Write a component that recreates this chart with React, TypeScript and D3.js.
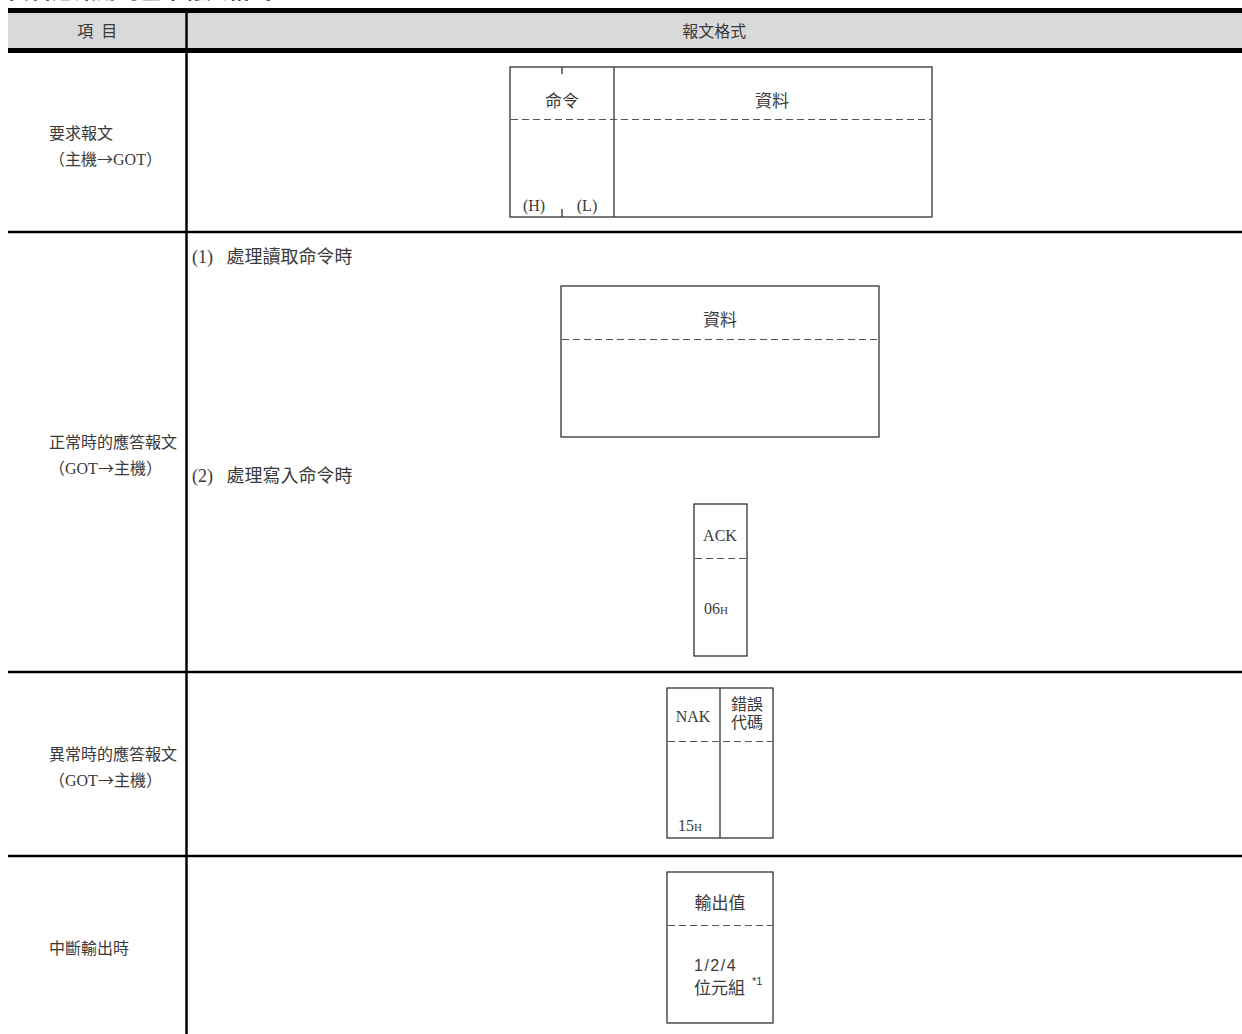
import React, { useEffect, useRef } from "react";
import * as d3 from "d3";

// texts of the table
const titleText = "資料通訊用的基本報文格式";
const headerLabels = ["項  目", "報文格式"];
const rowLabels = [
  ["要求報文", "（主機→GOT）"],
  ["正常時的應答報文", "（GOT→主機）"],
  ["異常時的應答報文", "（GOT→主機）"],
  ["中斷輸出時"],
];
const subCaptions = ["(1)   處理讀取命令時", "(2)   處理寫入命令時"];
const requestFields = ["命令", "資料"];
const requestBytes = ["(H)", "(L)"];
const readFields = ["資料"];
const ackFields = ["ACK", "06", "H"];
const nakFields = ["NAK", "15", "H"];
const errorCode = ["錯誤", "代碼"];
const outputFields = ["輸出值", "1/2/4", "位元組", "*1"];

// layout
const W = 1242;
const H = 1034;
const tableLeft = 8;
const colX = 186.5;
const rowBounds = [53, 232, 672, 856, H];

const CJK = "'Liberation Serif', 'Noto Sans CJK TC', serif";
const CJK_ONLY = "'Noto Sans CJK TC', sans-serif";
const SANS = "'Liberation Sans', Arial, sans-serif";
const TEXT = "#3a3a3a";
const FS = 17;

const App: React.FC = () => {
  const ref = useRef<SVGSVGElement>(null);

  useEffect(() => {
    const svg = d3.select(ref.current);
    svg.selectAll("*").remove();

    const y = d3.scaleLinear().domain([0, H]).range([0, H]);

    // title, mostly cut off by the page top
    svg
      .append("text")
      .attr("x", tableLeft)
      .attr("y", -2)
      .attr("font-family", CJK)
      .attr("font-weight", "bold")
      .attr("font-size", 22)
      .attr("fill", "#111")
      .text(titleText);

    // header
    svg.append("rect").attr("x", tableLeft).attr("y", 13).attr("width", W - tableLeft).attr("height", 35).attr("fill", "#d9d9d9");
    svg.append("rect").attr("x", tableLeft).attr("y", 8).attr("width", W - tableLeft).attr("height", 5).attr("fill", "#000");
    svg.append("rect").attr("x", tableLeft).attr("y", 48).attr("width", W - tableLeft).attr("height", 5).attr("fill", "#000");

    const headerX = [(tableLeft + colX) / 2, (colX + W) / 2];
    svg
      .selectAll("text.head")
      .data(headerLabels)
      .enter()
      .append("text")
      .attr("class", "head")
      .attr("x", (_d, i) => headerX[i])
      .attr("y", 37)
      .attr("text-anchor", "middle")
      .attr("font-family", CJK)
      .attr("font-size", 16)
      .attr("fill", TEXT)
      .style("white-space", "pre")
      .text((d) => d);

    // column divider
    svg.append("line").attr("x1", colX).attr("x2", colX).attr("y1", 13).attr("y2", H).attr("stroke", "#000").attr("stroke-width", 2.5);

    // row separators
    svg
      .selectAll("line.row")
      .data(rowBounds.slice(1, -1))
      .enter()
      .append("line")
      .attr("class", "row")
      .attr("x1", tableLeft)
      .attr("x2", W)
      .attr("y1", (d) => y(d))
      .attr("y2", (d) => y(d))
      .attr("stroke", "#000")
      .attr("stroke-width", 2.5);

    // row labels, arrow taken from the CJK font so it is full width
    rowLabels.forEach((lines, i) => {
      const mid = (rowBounds[i] + rowBounds[i + 1]) / 2 + 3;
      const top = mid - ((lines.length - 1) * 26) / 2;
      lines.forEach((ln, j) => {
        const t = svg
          .append("text")
          .attr("x", 49)
          .attr("y", y(top + j * 26) + 6)
          .attr("font-family", CJK)
          .attr("font-size", 16)
          .attr("fill", TEXT);
        ln.split("→").forEach((part, k) => {
          if (k > 0) t.append("tspan").attr("font-family", CJK_ONLY).text("→");
          t.append("tspan").text(part);
        });
      });
    });

    const box = (x: number, yy: number, w: number, h: number) =>
      svg.append("rect").attr("x", x).attr("y", yy).attr("width", w).attr("height", h).attr("fill", "none").attr("stroke", "#333").attr("stroke-width", 1.3);
    const dash = (x1: number, x2: number, yy: number) =>
      svg.append("line").attr("x1", x1).attr("x2", x2).attr("y1", yy).attr("y2", yy).attr("stroke", "#555").attr("stroke-width", 1.2).attr("stroke-dasharray", "7,4");
    const vline = (x: number, y1: number, y2: number) =>
      svg.append("line").attr("x1", x).attr("x2", x).attr("y1", y1).attr("y2", y2).attr("stroke", "#333").attr("stroke-width", 1.3);
    const label = (t: string, x: number, yy: number, anchor = "middle", size = FS, family = CJK) =>
      svg.append("text").attr("x", x).attr("y", yy).attr("text-anchor", anchor).attr("font-family", family).attr("font-size", size).attr("fill", TEXT).text(t);

    // request message box
    box(510, 67, 422, 150);
    vline(614, 67, 217);
    vline(562, 67, 74);
    vline(562, 209, 217);
    dash(511, 931, 119.5);
    label(requestFields[0], 562, 107);
    label(requestFields[1], 772, 107);
    label(requestBytes[0], 534, 211, "middle", 16);
    label(requestBytes[1], 587, 211, "middle", 16);

    // normal response
    subCaptions.forEach((c, i) => {
      svg
        .append("text")
        .attr("x", 192)
        .attr("y", [263, 482][i])
        .attr("font-family", CJK)
        .attr("font-size", 18)
        .attr("fill", TEXT)
        .style("white-space", "pre")
        .text(c);
    });
    box(561, 286, 318, 151);
    dash(562, 878, 339.5);
    label(readFields[0], 720, 326);

    box(694, 504, 53, 152);
    dash(695, 746, 558.5);
    label(ackFields[0], 720, 541, "middle", 16);
    const t06 = label(ackFields[1], 716, 614, "middle", 16);
    t06.append("tspan").attr("font-size", 11).text(ackFields[2]);

    // error response
    box(667, 688, 106, 150);
    vline(720, 688, 838);
    dash(668, 772, 741.5);
    label(nakFields[0], 693, 722, "middle", 16);
    label(errorCode[0], 747, 710, "middle", 16);
    label(errorCode[1], 747, 728, "middle", 16);
    const t15 = label(nakFields[1], 690, 831, "middle", 16);
    t15.append("tspan").attr("font-size", 11).text(nakFields[2]);

    // interrupt output
    box(667, 872, 106, 151);
    dash(668, 772, 925.5);
    label(outputFields[0], 720, 909);
    label(outputFields[1], 694, 971, "start", 16, SANS).attr("letter-spacing", 1.5);
    label(outputFields[2], 694, 994, "start", FS);
    label(outputFields[3], 752, 985, "start", 11, SANS);
  }, []);

  return (
    <div style={{ position: "absolute", left: 0, top: 0, width: W, height: H, overflow: "hidden", background: "#fff" }}>
      <svg ref={ref} width={W} height={H} style={{ display: "block" }} />
    </div>
  );
};

export default App;
